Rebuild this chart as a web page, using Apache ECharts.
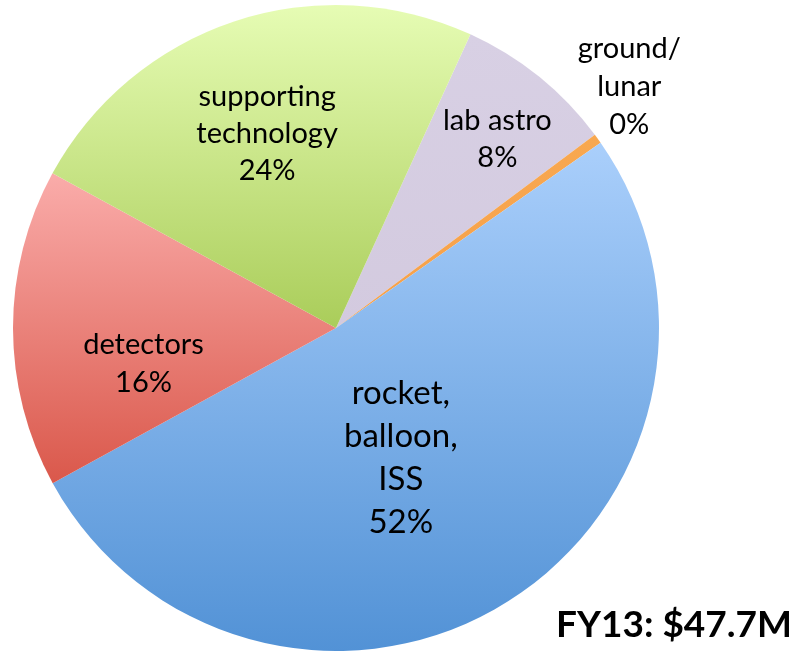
<!DOCTYPE html>
<html>
<head>
<meta charset="utf-8">
<script src="https://cdn.jsdelivr.net/npm/echarts@6/dist/echarts.min.js"></script>
<style>html,body{margin:0;padding:0;background:#fff}#c{width:795px;height:652px}</style>
</head>
<body>
<div id="c"></div>
<script>
// Data (FY13, $M), clockwise order
var categories = ['lab astro', 'ground/\nlunar', 'rocket,\nballoon,\nISS', 'detectors', 'supporting\ntechnology'];
var values = [3.8, 0.23, 24.7, 7.6, 11.4];
var titleText = 'FY13: $47.7M';

// Styles
var topColors = ['#d8d0e4', '#f8a850', '#aacffb', '#faacaa', '#e6fcb4'];
var bottomColors = ['#d3cadf', '#f6a04a', '#5292d6', '#da584b', '#aacd5a'];
var labelOffsets = [[58, -61], [160, -145], [-22, -10], [-28, 36], [-17, -38]];
var labelSizes = [29, 29, 33, 29, 29];
var labelLineHeights = [37, 38, 43, 38, 37];

var chart = echarts.init(document.getElementById('c'), null, {renderer: 'canvas'});
var data = categories.map(function (c, i) {
  return {
    name: c,
    value: values[i],
    itemStyle: {
      color: new echarts.graphic.LinearGradient(0, 0, 0, 1, [
        {offset: 0, color: topColors[i]},
        {offset: 1, color: bottomColors[i]}
      ])
    },
    label: {
      offset: labelOffsets[i],
      fontSize: labelSizes[i],
      lineHeight: labelLineHeights[i]
    }
  };
});

chart.setOption({
  animation: false,
  backgroundColor: '#ffffff',
  title: {
    text: titleText,
    right: -2,
    bottom: 3,
    textStyle: {fontFamily: 'Lato', fontWeight: 'bold', fontSize: 37, color: '#000'}
  },
  series: [{
    type: 'pie',
    center: [336, 328],
    radius: [0, 323],
    startAngle: 65.4,
    clockwise: true,
    avoidLabelOverlap: false,
    minAngle: 0,
    itemStyle: {borderWidth: 0},
    label: {
      show: true,
      position: 'inside',
      color: '#000',
      fontFamily: 'Lato',
      fontSize: 29,
      lineHeight: 37,
      align: 'center',
      formatter: function (p) {
        return p.name + '\n' + Math.round(p.percent) + '%';
      }
    },
    labelLine: {show: false},
    emphasis: {disabled: true},
    data: data
  }]
});
</script>
</body>
</html>
